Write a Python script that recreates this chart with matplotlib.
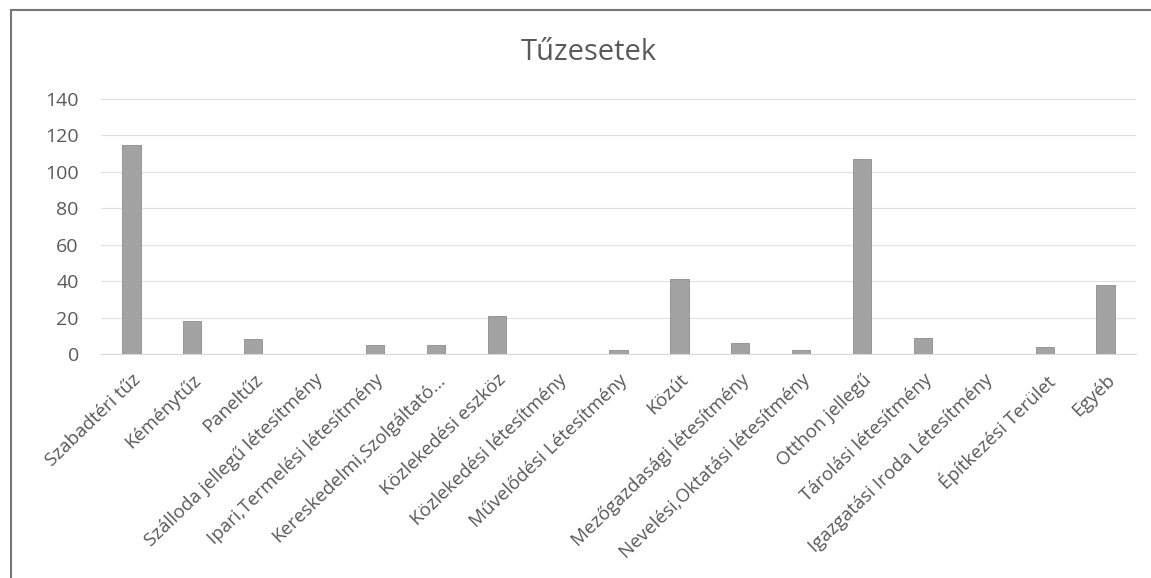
import matplotlib.pyplot as plt
from matplotlib.lines import Line2D

plt.rcParams['font.family'] = ['Open Sans', 'DejaVu Sans']

categories = ['Szabadtéri tűz', 'Kéménytűz', 'Paneltűz',
              'Szálloda jellegű létesítmény', 'Ipari,Termelési létesítmény',
              'Kereskedelmi,Szolgáltató...', 'Közlekedési eszköz',
              'Közlekedési létesítmény', 'Művelődési Létesítmény', 'Közút',
              'Mezőgazdasági létesítmény', 'Nevelési,Oktatási létesítmény',
              'Otthon jellegű', 'Tárolási létesítmény',
              'Igazgatási Iroda Létesítmény', 'Építkezési Terület', 'Egyéb']
values = [115, 18, 8, 0, 5, 5, 21, 0, 2, 41, 6, 2, 107, 9, 0, 4, 38]
yticks = [0, 20, 40, 60, 80, 100, 120, 140]

W, H = 1151, 578
fig = plt.figure(figsize=(W / 100, H / 100), dpi=100)
ax = fig.add_axes([101 / W, 1 - 354 / H, 1035 / W, 255 / H])

x = range(len(categories))
ax.bar(x, values, width=0.30, color='#a3a3a3', edgecolor='#8c8c8c', linewidth=0.6, zorder=3)

ax.set_xlim(-0.5, len(categories) - 0.5)
ax.set_ylim(0, 140)
ax.set_yticks(yticks)
ax.set_xticks(list(x))
ax.set_xticklabels(categories, rotation=44, ha='right', rotation_mode='anchor',
                   fontsize=13.5, color='#595959')
ax.tick_params(axis='y', labelsize=14, colors='#595959', length=0, pad=16)
ax.tick_params(axis='x', length=0, pad=12)
ax.grid(axis='y', color='#e0e0e0', linewidth=0.8, zorder=0)
for s in ['top', 'right', 'left']:
    ax.spines[s].set_visible(False)
ax.spines['bottom'].set_color('#d9d9d9')

fig.text(589 / W, 1 - 52 / H, 'Tűzesetek', ha='center', va='center',
         fontsize=21, color='#595959')

# frame lines of the scanned chart box
fig.add_artist(Line2D([11 / W, 1], [1 - 10 / H] * 2, color='#777777', linewidth=1.5))
fig.add_artist(Line2D([11 / W] * 2, [0, 1 - 10 / H], color='#777777', linewidth=1.5))

fig.savefig('out.png', dpi=100, facecolor='white')
